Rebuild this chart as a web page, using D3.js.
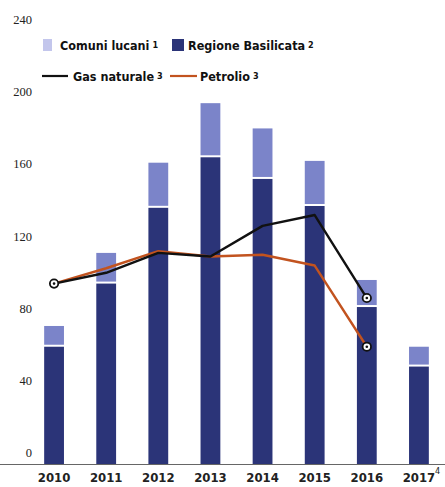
<!DOCTYPE html>
<html>
<head>
<meta charset="utf-8">
<script src="https://cdn.jsdelivr.net/npm/d3@7"></script>
<style>
  body { margin: 0; background: #fff; }
  svg { display: block; }
</style>
</head>
<body>
<div id="chart"></div>
<script>
// data
var years = ["2010", "2011", "2012", "2013", "2014", "2015", "2016", "2017"];
var regione = [65, 100, 142, 170, 158, 143, 87, 54];
var comuni = [11.5, 17, 25, 30, 28, 25, 15, 11];
var gas = [100, 106, 117, 115, 132, 138, 92];
var petrolio = [100, 108.5, 118, 115, 116, 110, 65];
var yTicks = [0, 40, 80, 120, 160, 200, 240];

var W = 445, H = 487;
var cDark = "#2b3478", cLight = "#7b84c9", cLegLight = "#c3c6ec";
var cGas = "#111111", cOil = "#c2531f";
var sans = "'DejaVu Sans Condensed', 'Liberation Sans Narrow', sans-serif";

var svg = d3.select("#chart").append("svg")
    .attr("width", W).attr("height", H);

var x = d3.scaleBand().domain(years).range([28, 445]).paddingInner(0.62).paddingOuter(0.31);
var y = d3.scaleLinear().domain([0, 240]).range([464, 31]);
var cx = function (d, i) { return x(years[i]) + x.bandwidth() / 2; };

// y labels (sit above their value)
svg.append("g").selectAll("text").data(yTicks).enter().append("text")
    .attr("x", 32).attr("y", function (d) { return y(d) - 7; })
    .attr("text-anchor", "end")
    .attr("font-family", "'Liberation Serif', 'DejaVu Serif', serif")
    .attr("font-size", 12.5).attr("fill", "#222")
    .text(function (d) { return d; });

// bars
var bars = svg.append("g");
bars.selectAll(".dark").data(regione).enter().append("rect")
    .attr("x", function (d, i) { return x(years[i]); })
    .attr("width", x.bandwidth())
    .attr("y", function (d) { return y(d); })
    .attr("height", function (d) { return y(0) - y(d); })
    .attr("fill", cDark);
bars.selectAll(".light").data(comuni).enter().append("rect")
    .attr("x", function (d, i) { return x(years[i]); })
    .attr("width", x.bandwidth())
    .attr("y", function (d, i) { return y(regione[i] + d); })
    .attr("height", function (d, i) { return y(regione[i]) - y(regione[i] + d) - 2; })
    .attr("fill", cLight);

// axis line
svg.append("line").attr("x1", 0).attr("x2", W)
    .attr("y1", y(0) + 0.5).attr("y2", y(0) + 0.5)
    .attr("stroke", "#666").attr("stroke-width", 1.2);

// x labels
svg.append("g").selectAll("text").data(years).enter().append("text")
    .attr("x", function (d) { return x(d) + x.bandwidth() / 2; })
    .attr("y", 482)
    .attr("text-anchor", "middle")
    .attr("font-family", sans).attr("font-weight", "bold")
    .attr("font-size", 13).attr("fill", "#222")
    .text(function (d) { return d; });
svg.append("text").attr("x", x("2017") + x.bandwidth() / 2 + 16).attr("y", 474)
    .attr("font-family", sans).attr("font-size", 9).attr("fill", "#222").text("4");

// lines
function drawLine(vals, color) {
    var line = d3.line().x(cx).y(function (d) { return y(d); });
    svg.append("path").datum(vals)
        .attr("d", line).attr("fill", "none")
        .attr("stroke", color).attr("stroke-width", 2.4)
        .attr("stroke-linejoin", "round");
}
drawLine(petrolio, cOil);
drawLine(gas, cGas);

// end markers
var marks = [[0, gas[0]], [6, gas[6]], [6, petrolio[6]]];
marks.forEach(function (m) {
    var px = cx(null, m[0]), py = y(m[1]);
    svg.append("circle").attr("cx", px).attr("cy", py).attr("r", 4.2)
        .attr("fill", "#fff").attr("stroke", "#111").attr("stroke-width", 1.8);
    svg.append("circle").attr("cx", px).attr("cy", py).attr("r", 1.3).attr("fill", "#111");
});

// legend
var leg = svg.append("g").attr("font-family", sans).attr("font-weight", "bold")
    .attr("font-size", 12.5).attr("fill", "#111");
function legText(tx, ty, label, sup) {
    var t = leg.append("text").attr("x", tx).attr("y", ty);
    t.append("tspan").text(label);
    t.append("tspan").attr("font-size", 9).attr("dx", 3).attr("dy", -2).text(sup);
}
leg.append("rect").attr("x", 43).attr("y", 39).attr("width", 9).attr("height", 12).attr("fill", cLegLight);
legText(60, 50, "Comuni lucani", "1");
leg.append("rect").attr("x", 172).attr("y", 39).attr("width", 12).attr("height", 12).attr("fill", cDark);
legText(188, 50, "Regione Basilicata", "2");
leg.append("line").attr("x1", 42).attr("x2", 68).attr("y1", 76).attr("y2", 76)
    .attr("stroke", cGas).attr("stroke-width", 2.2);
legText(73, 81, "Gas naturale", "3");
leg.append("line").attr("x1", 170).attr("x2", 197).attr("y1", 76).attr("y2", 76)
    .attr("stroke", cOil).attr("stroke-width", 2.2);
legText(200, 81, "Petrolio", "3");
</script>
</body>
</html>
